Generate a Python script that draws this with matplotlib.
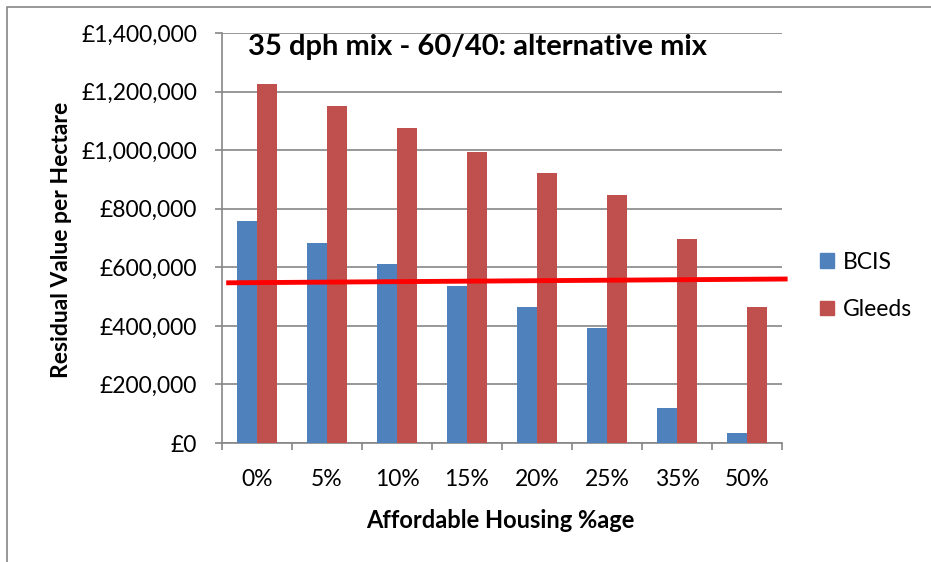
import numpy as np
import matplotlib.pyplot as plt
from matplotlib.patches import Rectangle, Patch

plt.rcParams['font.family'] = ['Lato', 'DejaVu Sans']

# datos
categorias = ['0%', '5%', '10%', '15%', '20%', '25%', '35%', '50%']
bcis = [758000, 684000, 611000, 536000, 464000, 392000, 120000, 35000]
gleeds = [1226000, 1151000, 1076000, 994000, 922000, 847000, 697000, 464000]
umbral = [547000, 560000]  # linea roja (izq, der)

fig = plt.figure(figsize=(9.31, 5.62), dpi=100)
ax = fig.add_axes([222 / 931, 1 - 443 / 562, 560 / 931, 410 / 562])

x = np.arange(len(categorias))
w = 0.2857
ax.bar(x - w / 2, bcis, width=w, color='#4F81BD', zorder=3)
ax.bar(x + w / 2, gleeds, width=w, color='#C0504D', zorder=3)

# linea roja de referencia, sale del area del grafico
ax.plot([-0.44, 7.58], umbral, color='#FF0000', lw=3.5, zorder=4,
        solid_capstyle='butt', clip_on=False)

ax.set_xlim(-0.5, 7.5)
ax.set_ylim(0, 1400000)
ax.set_yticks(np.arange(0, 1400001, 200000))
ax.set_yticklabels(['£{:,}'.format(v) for v in range(0, 1400001, 200000)])
ax.yaxis.grid(True, color='#868686', lw=1.2, zorder=0)

ax.set_xticks(x)
ax.set_xticklabels(categorias)
ax.set_xticks(np.arange(-0.5, 8, 1), minor=True)
ax.tick_params(axis='x', which='major', length=0, pad=19, labelsize=16.5)
ax.tick_params(axis='x', which='minor', length=5, color='#868686', width=1.2)
ax.tick_params(axis='y', length=5, color='#868686', width=1.2, pad=13, labelsize=16.5)

for s in ['top', 'right']:
    ax.spines[s].set_visible(False)
for s in ['left', 'bottom']:
    ax.spines[s].set_color('#868686')
    ax.spines[s].set_linewidth(1.2)

fig.text(248 / 931, 1 - 47 / 562, '35 dph mix - 60/40: alternative mix',
         fontsize=21, fontweight='bold', va='center', ha='left')

fig.text(61 / 931, 1 - 240 / 562, 'Residual Value per Hectare', rotation=90,
         fontsize=16.5, fontweight='bold', ha='center', va='center')
fig.text(500 / 931, 1 - 520 / 562, 'Affordable Housing %age',
         fontsize=17, fontweight='bold', ha='center', va='center')

handles = [Patch(color='#4F81BD', label='BCIS'), Patch(color='#C0504D', label='Gleeds')]
fig.legend(handles=handles, loc='center left', bbox_to_anchor=(820 / 931, 1 - 286 / 562),
           frameon=False, fontsize=16.5, handlelength=0.6, handleheight=0.6,
           labelspacing=1.15, handletextpad=0.4, borderaxespad=0, borderpad=0)

# borde del area del grafico
fig.patches.append(Rectangle((7 / 931, -0.1), 1.2, 1 - 7 / 562 + 0.1,
                             transform=fig.transFigure, fill=False,
                             edgecolor='#868686', lw=1.2))

fig.savefig('out.png', dpi=100)
